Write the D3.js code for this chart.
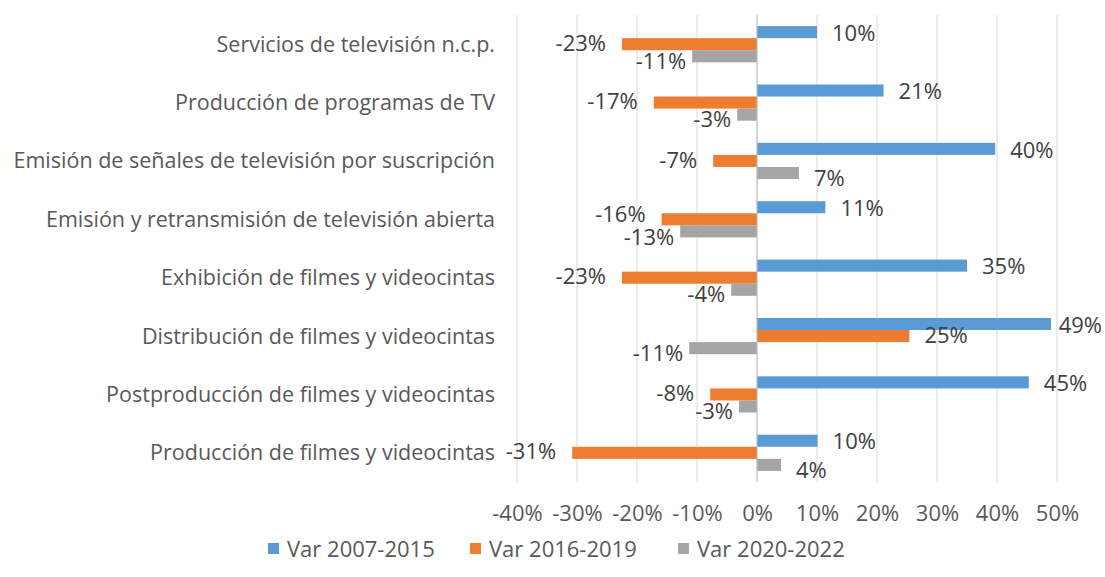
<!DOCTYPE html>
<html>
<head>
<meta charset="utf-8">
<script src="https://cdn.jsdelivr.net/npm/d3@7"></script>
<style>
  body { margin: 0; background: #fff; }
  text { font-family: "Open Sans", Lato, sans-serif; }
</style>
</head>
<body>
<svg width="1105" height="577"></svg>
<script>
// categories, top to bottom
var categories = [
  "Servicios de televisión n.c.p.",
  "Producción de programas de TV",
  "Emisión de señales de televisión por suscripción",
  "Emisión y retransmisión de televisión abierta",
  "Exhibición de filmes y videocintas",
  "Distribución de filmes y videocintas",
  "Postproducción de filmes y videocintas",
  "Producción de filmes y videocintas"
];
var seriesNames = ["Var 2007-2015", "Var 2016-2019", "Var 2020-2022"];
var var0715 = [0.10, 0.211, 0.397, 0.114, 0.35, 0.49, 0.453, 0.101];
var var1619 = [-0.225, -0.172, -0.073, -0.159, -0.225, 0.254, -0.078, -0.308];
var var2022 = [-0.108, -0.033, 0.07, -0.128, -0.043, -0.113, -0.03, 0.04];
var xTicks = [-0.4, -0.3, -0.2, -0.1, 0, 0.1, 0.2, 0.3, 0.4, 0.5];
var colors = ["#5B9BD5", "#ED7D31", "#A5A5A5"];

var series = [var0715, var1619, var2022];

var svg = d3.select("svg");

var x = d3.scaleLinear().domain([-0.4, 0.5]).range([517, 1057]);
var y = d3.scaleBand().domain(categories).range([15, 482])
    .paddingInner(0.38).paddingOuter(0.19);
var ySub = d3.scaleBand().domain([0, 1, 2]).range([0, y.bandwidth()]);

// plain hyphen for negatives, like the original
var pct = d3.formatLocale({decimal: ".", thousands: ",", grouping: [3], currency: ["", ""], minus: "-"}).format(".0%");

// gridlines
svg.append("g").selectAll("line")
    .data(xTicks)
  .enter().append("line")
    .attr("x1", function(d) { return x(d); })
    .attr("x2", function(d) { return x(d); })
    .attr("y1", 15)
    .attr("y2", 482)
    .style("stroke", "#D9D9D9")
    .style("stroke-width", 1);

// x tick labels
var xAxis = d3.axisBottom(x).tickValues(xTicks).tickFormat(pct).tickSize(0).tickPadding(0);
var gx = svg.append("g").attr("transform", "translate(0,513)").call(xAxis);
gx.select(".domain").remove();
gx.selectAll("text")
    .attr("dy", "0.35em")
    .style("font-family", "'Open Sans', sans-serif")
    .style("font-size", "22px")
    .style("fill", "#595959");

// bars
var groups = svg.append("g").selectAll("g")
    .data(categories)
  .enter().append("g")
    .attr("transform", function(d) { return "translate(0," + y(d) + ")"; });

groups.selectAll("rect")
    .data(function(d, i) { return series.map(function(s, k) { return { k: k, v: s[i] }; }); })
  .enter().append("rect")
    .attr("x", function(d) { return x(Math.min(0, d.v)); })
    .attr("y", function(d) { return ySub(d.k); })
    .attr("width", function(d) { return Math.abs(x(d.v) - x(0)); })
    .attr("height", ySub.bandwidth())
    .style("fill", function(d) { return colors[d.k]; });

// data labels (Excel nudges the grey ones down a little)
var shiftY = [1, -1, 5];
groups.selectAll("text.val")
    .data(function(d, i) { return series.map(function(s, k) { return { k: k, v: s[i] }; }); })
  .enter().append("text")
    .attr("class", "val")
    .attr("x", function(d) {
      if (d.v >= 0) return x(d.v) + 15;
      return x(d.v) - (d.k === 2 ? 6 : 16);
    })
    .attr("y", function(d) { return ySub(d.k) + ySub.bandwidth() / 2 + shiftY[d.k]; })
    .attr("dy", "0.35em")
    .attr("text-anchor", function(d) { return d.v < 0 ? "end" : "start"; })
    .style("font-size", "22px")
    .style("fill", "#404040")
    .text(function(d) { return pct(d.v); });

// keep labels inside the picture, and pull apart the orange/grey ones that collide
groups.each(function() {
  var labels = d3.select(this).selectAll("text.val").nodes();
  labels.forEach(function(t) {
    var b = t.getBBox();
    if (b.x + b.width > 1102) t.setAttribute("x", +t.getAttribute("x") - (b.x + b.width - 1102));
  });
  var a = labels[1].getBBox(), c = labels[2].getBBox();
  if (a.x < c.x + c.width && c.x < a.x + a.width) {
    labels[1].setAttribute("y", +labels[1].getAttribute("y") - 4);
    labels[2].setAttribute("y", +labels[2].getAttribute("y") + 1);
  }
});

// zero axis line
svg.append("line")
    .attr("x1", x(0)).attr("x2", x(0))
    .attr("y1", 15).attr("y2", 482)
    .style("stroke", "#BFBFBF");

// category labels
svg.append("g").selectAll("text")
    .data(categories)
  .enter().append("text")
    .attr("x", 495)
    .attr("y", function(d) { return y(d) + y.bandwidth() / 2; })
    .attr("dy", "0.35em")
    .attr("text-anchor", "end")
    .style("font-size", "21.5px")
    .style("fill", "#595959")
    .text(function(d) { return d; });

// legend
var legendX = [268, 470, 678];
var legend = svg.append("g").selectAll("g")
    .data(seriesNames)
  .enter().append("g")
    .attr("transform", function(d, i) { return "translate(" + legendX[i] + ",543)"; });
legend.append("rect")
    .attr("width", 11).attr("height", 11)
    .style("fill", function(d, i) { return colors[i]; });
legend.append("text")
    .attr("x", 19).attr("y", 6)
    .attr("dy", "0.35em")
    .style("font-size", "22px")
    .style("fill", "#595959")
    .text(function(d) { return d; });
</script>
</body>
</html>
